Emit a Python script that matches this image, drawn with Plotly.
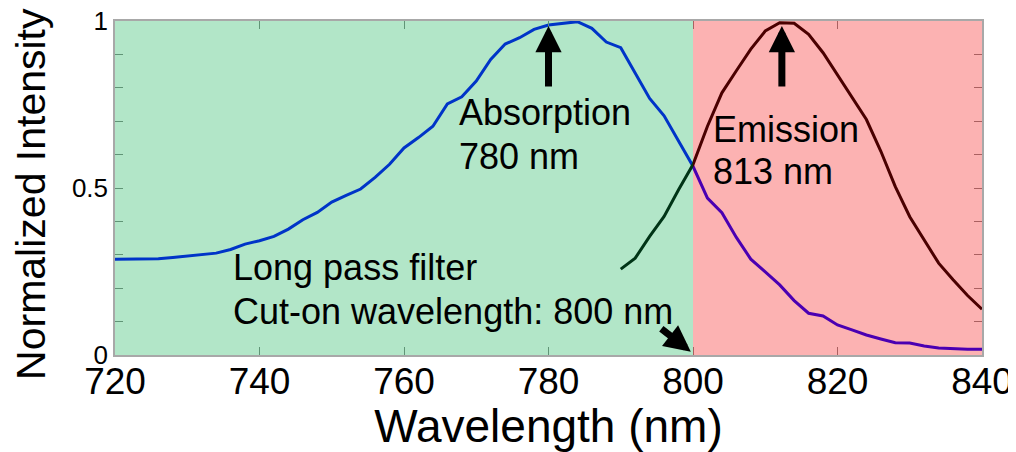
import plotly.graph_objects as go

# ---- data ----
abs_wl = [720, 722, 724, 726, 728, 730, 732, 734, 736, 738, 740, 742, 744, 746, 748,
          750, 752, 754, 756, 758, 760, 762, 764, 766, 768, 770, 772, 774, 776, 778,
          780, 782, 784, 786, 788, 790, 792, 794, 796, 798, 800, 802, 804, 806, 808,
          810, 812, 814, 816, 818, 820, 822, 824, 826, 828, 830, 832, 834, 836, 838, 840]
abs_int = [0.287, 0.287, 0.287, 0.288, 0.292, 0.296, 0.300, 0.305, 0.316, 0.332, 0.342,
           0.355, 0.377, 0.405, 0.427, 0.458, 0.478, 0.497, 0.532, 0.571, 0.620, 0.651,
           0.685, 0.752, 0.773, 0.820, 0.885, 0.931, 0.950, 0.975, 0.988, 0.994, 0.998,
           0.978, 0.937, 0.920, 0.845, 0.768, 0.716, 0.640, 0.565, 0.470, 0.426, 0.352,
           0.287, 0.249, 0.210, 0.163, 0.125, 0.117, 0.090, 0.075, 0.060, 0.048, 0.037,
           0.036, 0.027, 0.021, 0.018, 0.017, 0.017]

em_wl = [790, 792, 794, 796, 798, 800, 802, 804, 806, 808, 810, 812, 814, 816, 818,
         820, 822, 824, 826, 828, 830, 832, 834, 836, 838, 840]
em_int = [0.257, 0.290, 0.355, 0.415, 0.495, 0.570, 0.685, 0.785, 0.851, 0.916, 0.970,
          0.995, 0.993, 0.960, 0.905, 0.838, 0.768, 0.705, 0.610, 0.504, 0.414, 0.345,
          0.275, 0.225, 0.178, 0.137]

x_range = [720, 840]
cut_on = 800
x_ticks = [720, 740, 760, 780, 800, 820, 840]
y_ticks = [0, 0.1, 0.2, 0.3, 0.4, 0.5, 0.6, 0.7, 0.8, 0.9, 1]
y_tick_text = ["0", "", "", "", "", "0.5", "", "", "", "", "1"]

abs_peak = 780
em_peak = 812.3

FONT = "Liberation Sans, Arial, sans-serif"

fig = go.Figure()
fig.add_trace(go.Scatter(x=abs_wl, y=abs_int, mode="lines",
                         line=dict(color="rgb(0,0,255)", width=3), showlegend=False))
fig.add_trace(go.Scatter(x=em_wl, y=em_int, mode="lines",
                         line=dict(color="rgb(0,0,0)", width=3), showlegend=False))

# translucent filter regions drawn over the curves
fig.add_shape(type="rect", xref="x", yref="y", x0=x_range[0], x1=cut_on, y0=0, y1=1,
              fillcolor="rgb(0,172,72)", opacity=0.3, line=dict(width=0), layer="above")
fig.add_shape(type="rect", xref="x", yref="y", x0=cut_on, x1=x_range[1], y0=0, y1=1,
              fillcolor="rgb(245,0,0)", opacity=0.3, line=dict(width=0), layer="above")

txt = dict(font=dict(family=FONT, size=36, color="black"), showarrow=False,
           xanchor="left", yanchor="middle", xref="x", yref="y")
fig.add_annotation(x=767.3, y=0.7246, text="Absorption", **txt)
fig.add_annotation(x=767.3, y=0.593, text="780 nm", **txt)
fig.add_annotation(x=802.5, y=0.6746, text="Emission", **txt)
fig.add_annotation(x=802.5, y=0.548, text="813 nm", **txt)
fig.add_annotation(x=736.05, y=0.2605, text="Long pass filter", **txt)
fig.add_annotation(x=736.05, y=0.1308, text="Cut-on wavelength: 800 nm", **txt)

arr = dict(showarrow=True, arrowhead=2, arrowwidth=7, arrowsize=0.75,
           arrowcolor="black", text="", xref="x", yref="y", standoff=0)
fig.add_annotation(x=abs_peak, y=0.985, ax=0, ay=62, **arr)
fig.add_annotation(x=em_peak, y=0.985, ax=0, ay=62, **arr)
fig.add_annotation(x=cut_on - 0.3, y=0.01, ax=-31, ay=-24, **arr)

# y-axis title as a rotated annotation so it can sit slightly below centre
fig.add_annotation(text="Normalized Intensity", textangle=-90, showarrow=False,
                   xref="paper", yref="paper", x=-0.097, y=0.482,
                   xanchor="center", yanchor="middle",
                   font=dict(family=FONT, size=41, color="black"))

fig.update_xaxes(range=x_range, tickvals=x_ticks, ticks="inside", ticklen=8,
                 tickcolor="#8a8a8a", showline=True, linecolor="#a8a8a8", linewidth=1.5,
                 mirror="ticks", showgrid=False, zeroline=False, ticklabelstandoff=-7,
                 ticklabeloverflow="allow",
                 tickfont=dict(family=FONT, size=37, color="black"),
                 title=dict(text="Wavelength (nm)", font=dict(family=FONT, size=46, color="black"),
                            standoff=0))
fig.update_yaxes(range=[0, 1], tickvals=y_ticks, ticktext=y_tick_text, ticks="inside",
                 ticklen=8, tickcolor="#8a8a8a", showline=True, linecolor="#a8a8a8",
                 linewidth=1.5, mirror="ticks", showgrid=False, zeroline=False,
                 ticklabeloverflow="allow",
                 tickfont=dict(family=FONT, size=26, color="black"))

# the page places the figure 8px in from the top-left corner
fig.update_layout(width=1008, height=444,
                  margin=dict(l=107, r=34, t=13, b=97, autoexpand=False),
                  plot_bgcolor="white", paper_bgcolor="white")

fig.write_html("out.html")
